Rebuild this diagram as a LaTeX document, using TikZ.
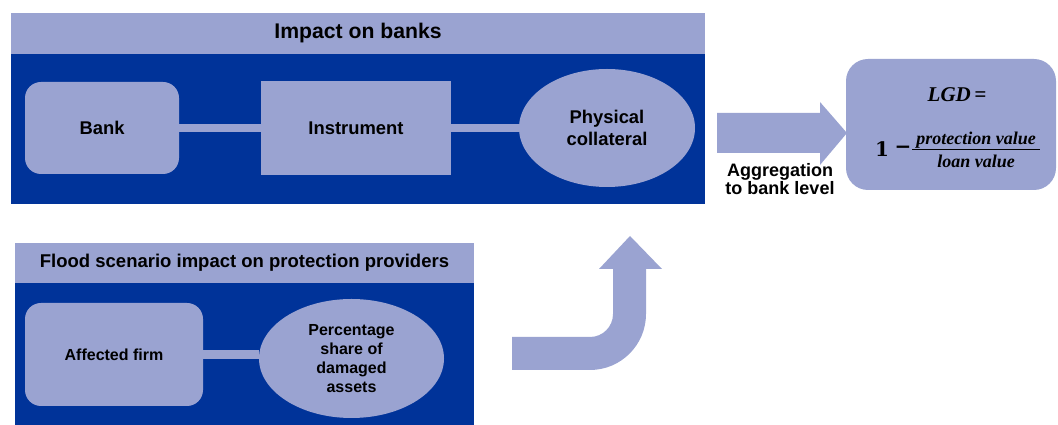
\documentclass[tikz,border=0pt]{standalone}
\usepackage{fontspec}
\setmainfont{Liberation Sans}
\newfontfamily\formulafont{Liberation Serif}
\newfontfamily\digitfont{DejaVu Serif}
\usetikzlibrary{shapes.geometric}
\definecolor{lightb}{RGB}{154,163,209}
\definecolor{darkb}{RGB}{0,51,153}
\begin{document}
\begin{tikzpicture}[x=1pt,y=1pt,
  every node/.style={inner sep=0pt, outer sep=0pt},
  header/.style={fill=lightb, draw=none, font=\bfseries\fontsize{21.2}{24}\selectfont},
  panel/.style={fill=darkb, draw=none},
  box/.style={fill=lightb, draw=none, align=center, font=\bfseries\fontsize{18.4}{22}\selectfont},
  smallbox/.style={box, font=\bfseries\fontsize{16}{19}\selectfont},
  conn/.style={draw=lightb, line width=8.5pt},
  ftext/.style={font=\formulafont\bfseries\itshape\fontsize{18}{20}\selectfont, anchor=base},
  fbig/.style={font=\formulafont\bfseries\itshape\fontsize{21}{24}\selectfont, anchor=base},
  fdigit/.style={font=\digitfont\bfseries\fontsize{20}{24}\selectfont},
  blockarrow/.style={fill=lightb, draw=none}]
\useasboundingbox (0,0) rectangle (1058,425);

% top panel
\node[header, minimum width=694, minimum height=41] (hTop) at (358,391.5) {Impact on banks};
\node[panel, minimum width=694, minimum height=150, anchor=north] (pTop) at (hTop.south) {};
\node[box, rounded corners=16, minimum width=154, minimum height=92] (bank) at (102,297) {Bank};
\node[box, minimum width=190, minimum height=94] (instr) at (356,297) {Instrument};
\node[box, ellipse, minimum width=176, minimum height=118] (coll) at (607,297) {Physical\\collateral};
\draw[conn] (bank.east) -- (instr.west);
\draw[conn] (instr.east) -- (coll.west);

% bottom panel
\node[header, font=\bfseries\fontsize{18.5}{22}\selectfont, minimum width=459, minimum height=40] (hBot) at (244.5,162) {Flood scenario impact on protection providers};
\node[panel, minimum width=459, minimum height=142, anchor=north] (pBot) at (hBot.south) {};
\node[smallbox, rounded corners=16, minimum width=178, minimum height=103] (aff) at (114,70.5) {Affected firm};
\node[smallbox, ellipse, minimum width=185, minimum height=119] (pct) at (351.5,66.5) {Percentage\\share of\\damaged\\assets};
\draw[conn] (aff.east) -- (aff.east -| pct.west);

% curved arrow
\fill[blockarrow] (512,88) -- (590,88) arc[start angle=-90, end angle=0, radius=23]
  -- (613,156) -- (599,156) -- (630,189) -- (662,156) -- (646,156) -- (646,111)
  arc[start angle=0, end angle=-90, radius=56] -- (512,55) -- cycle;

% LGD box
\node[box, rounded corners=22, minimum width=210, minimum height=131] (lgd) at (951,300.5) {};
\node[fbig] (lgdA) at (957,323) {LGD\,=};
\node[fdigit, anchor=base west] (one) at (875,268) {1};
\node[fdigit] (minus) at (903,275.5) {−};
\node[ftext] (num) at (976,280) {protection value};
\node[ftext] (den) at (976,257) {loan value};
\coordinate (fracL) at (912,275.5);
\coordinate (fracR) at (1040,275.5);
\draw[line width=1.6pt] (fracL) -- (fracR);

% right arrow
\coordinate (tip) at (847,292);
\fill[blockarrow] (717,312) -- (820,312) -- (820,323) -- (tip) -- (820,260) -- (820,272) -- (717,272) -- cycle;
\node[align=center, font=\bfseries\fontsize{18}{18}\selectfont] (agg) at (780,246) {Aggregation\\to bank level};
\end{tikzpicture}
\end{document}
